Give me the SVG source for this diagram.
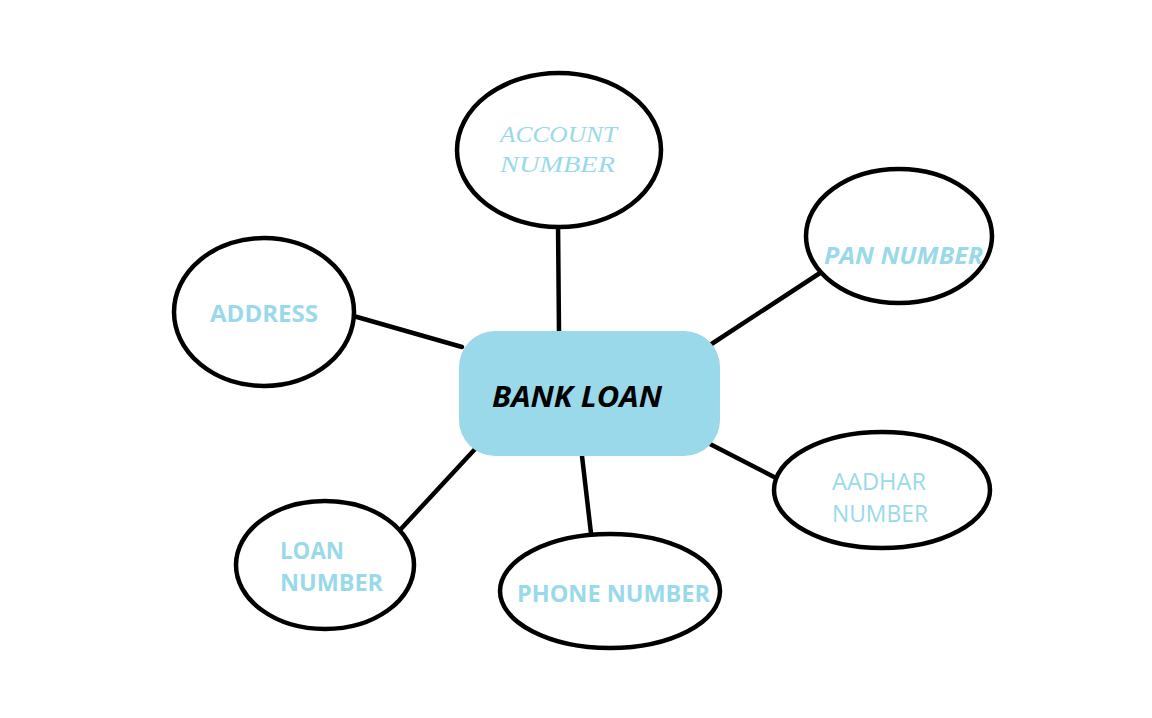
<svg xmlns="http://www.w3.org/2000/svg" width="1152" height="718" viewBox="0 0 1152 718">
<style>
.n{fill:#fff;stroke:#000;stroke-width:4.5}
.c line{stroke:#000;stroke-width:4.5;stroke-linecap:round}
.t{fill:#99d9ea;font-family:"Open Sans","Liberation Sans",sans-serif}
.s{font-family:"Liberation Serif","DejaVu Serif",serif;font-style:italic}
.b{font-weight:bold}
</style>
<rect width="1152" height="718" fill="#fff"/>
<g class="c" id="connectors">
<line x1="558" y1="222" x2="559" y2="332"/>
<line x1="710" y1="345" x2="820" y2="273"/>
<line x1="350" y1="315" x2="462" y2="347"/>
<line x1="708" y1="443" x2="776" y2="478"/>
<line x1="400" y1="530" x2="476" y2="448"/>
<line x1="582" y1="456" x2="592" y2="542"/>
</g>
<g id="bank-loan">
<rect x="459" y="331" width="261" height="125" rx="36" fill="#99d9ea"/>
<text x="492" y="407" font-family="Open Sans,Liberation Sans,sans-serif" font-weight="bold" font-style="italic" font-size="29" fill="#000" textLength="170" lengthAdjust="spacingAndGlyphs">BANK LOAN</text>
</g>
<g id="account-number">
<ellipse class="n" cx="559" cy="150" rx="102" ry="77"/>
<text class="t s" x="500" y="142" font-size="23" textLength="117" lengthAdjust="spacingAndGlyphs">ACCOUNT</text>
<text class="t s" x="500" y="172" font-size="23" textLength="115" lengthAdjust="spacingAndGlyphs">NUMBER</text>
</g>
<g id="pan-number">
<ellipse class="n" cx="899" cy="236" rx="93" ry="67"/>
<text class="t b" x="824" y="264" font-size="23" font-style="italic" textLength="159" lengthAdjust="spacingAndGlyphs">PAN NUMBER</text>
</g>
<g id="address">
<ellipse class="n" cx="264" cy="312" rx="90" ry="74"/>
<text class="t b" x="210" y="322" font-size="23" textLength="108" lengthAdjust="spacingAndGlyphs">ADDRESS</text>
</g>
<g id="aadhar-number">
<ellipse class="n" cx="882" cy="490" rx="108" ry="58"/>
<text class="t" x="832" y="490" font-size="23" textLength="94" lengthAdjust="spacingAndGlyphs">AADHAR</text>
<text class="t" x="832" y="522" font-size="23" textLength="96" lengthAdjust="spacingAndGlyphs">NUMBER</text>
</g>
<g id="loan-number">
<ellipse class="n" cx="325" cy="565" rx="89" ry="64"/>
<text class="t b" x="280" y="559" font-size="23" textLength="64" lengthAdjust="spacingAndGlyphs">LOAN</text>
<text class="t b" x="280" y="591" font-size="23" textLength="103" lengthAdjust="spacingAndGlyphs">NUMBER</text>
</g>
<g id="phone-number">
<ellipse class="n" cx="610" cy="591" rx="110" ry="57"/>
<text class="t b" x="517" y="602" font-size="23" textLength="193" lengthAdjust="spacingAndGlyphs">PHONE NUMBER</text>
</g>
</svg>
